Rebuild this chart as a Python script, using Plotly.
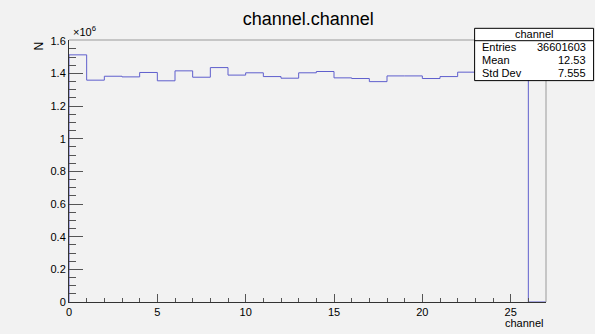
import plotly.graph_objects as go

# Channel occupancy histogram: one bin per channel, 27 bins over [0, 27)
channels = list(range(27))
counts = [
    1.514e6, 1.359e6, 1.383e6, 1.379e6, 1.406e6, 1.355e6, 1.416e6, 1.377e6,
    1.436e6, 1.390e6, 1.404e6, 1.381e6, 1.371e6, 1.404e6, 1.412e6, 1.373e6,
    1.369e6, 1.350e6, 1.385e6, 1.385e6, 1.369e6, 1.381e6, 1.408e6, 1.420e6,
    1.440e6, 1.460e6, 0.0,
]
y_tick_vals = [0, 0.2e6, 0.4e6, 0.6e6, 0.8e6, 1.0e6, 1.2e6, 1.4e6, 1.6e6]
y_tick_text = ["0", "0.2", "0.4", "0.6", "0.8", "1", "1.2", "1.4", "1.6"]
x_tick_vals = [0, 5, 10, 15, 20, 25]
stats_rows = [("Entries", "36601603"), ("Mean", "12.53"), ("Std Dev", "7.555")]

FONT = "Liberation Sans, Arial, sans-serif"
BG = "#f2f2f2"

# step outline: rise at the low edge of bin 0, then one flat segment per bin
edges = [channels[0]] + channels + [channels[-1] + 1]
levels = [0.0] + counts + [counts[-1]]

fig = go.Figure()
fig.add_trace(go.Scatter(
    x=edges, y=levels, mode="lines", line_shape="hv",
    line=dict(color="rgb(95,95,205)", width=1), hoverinfo="skip",
    showlegend=False,
))

fig.update_layout(
    width=595, height=334,
    margin=dict(l=69, r=49, t=40, b=32),
    paper_bgcolor=BG, plot_bgcolor=BG,
    font=dict(family=FONT, size=11, color="black"),
    showlegend=False,
    title=dict(text="channel.channel", x=0.518, xanchor="center",
               y=1 - 19 / 334, yanchor="middle",
               font=dict(family=FONT, size=18, color="black")),
)

fig.update_xaxes(
    range=[0, 27], showgrid=False, zeroline=False,
    showline=True, linecolor="#333333", linewidth=1,
    ticks="inside", ticklen=8, tickcolor="#555555",
    tickvals=x_tick_vals,
    minor=dict(ticks="inside", ticklen=4, dtick=1, tickcolor="#555555"),
    tickfont=dict(family=FONT, size=11),
)
fig.update_yaxes(
    range=[0, 1.605e6], showgrid=False, zeroline=False,
    showline=True, linecolor="#333333", linewidth=1,
    ticks="inside", ticklen=14, tickcolor="#555555",
    tickvals=y_tick_vals, ticktext=y_tick_text,
    minor=dict(ticks="inside", ticklen=7, dtick=0.05e6, tickcolor="#555555"),
    tickfont=dict(family=FONT, size=11),
)

# top and right edges of the frame
fig.add_shape(type="line", xref="paper", yref="paper", x0=0, x1=1, y0=1, y1=1,
              line=dict(color="#9a9a9a", width=1))
fig.add_shape(type="line", xref="paper", yref="paper", x0=1, x1=1, y0=0, y1=1,
              line=dict(color="#9a9a9a", width=1))

# axis titles and exponent
fig.add_annotation(text="N", xref="paper", yref="paper", x=-31 / 477, y=1,
                   xanchor="center", yanchor="top", textangle=-90,
                   showarrow=False, font=dict(family=FONT, size=12))
fig.add_annotation(text="×10<sup>6</sup>", xref="paper", yref="paper",
                   x=0.005, y=1 + 9 / 262, xanchor="left", yanchor="middle",
                   showarrow=False, font=dict(family=FONT, size=11))
fig.add_annotation(text="channel", xref="paper", yref="paper", x=1,
                   y=-13 / 262, xanchor="right", yanchor="top",
                   showarrow=False, font=dict(family=FONT, size=11))

# statistics box (pixel coordinates converted to paper fractions)
px0, px1 = 69.3, 546.4
py0, py1 = 302.5, 40.0


def fx(px):
    return (px - px0) / (px1 - px0)


def fy(py):
    return (py0 - py) / (py0 - py1)


bx0, bx1, by0, by1 = 475.0, 594.0, 28.3, 80.7
fig.add_shape(type="rect", xref="paper", yref="paper",
              x0=fx(bx0), x1=fx(bx1), y0=fy(by1), y1=fy(by0),
              fillcolor="white", line=dict(color="black", width=1),
              layer="above")
fig.add_shape(type="line", xref="paper", yref="paper",
              x0=fx(bx0), x1=fx(bx1), y0=fy(40.7), y1=fy(40.7),
              line=dict(color="black", width=1), layer="above")
fig.add_annotation(text="channel", xref="paper", yref="paper",
                   x=fx((bx0 + bx1) / 2), y=fy(34.3), xanchor="center",
                   yanchor="middle", showarrow=False,
                   font=dict(family=FONT, size=11))
row_y = [46.7, 60.0, 72.7]
for (name, val), ry in zip(stats_rows, row_y):
    fig.add_annotation(text=name, xref="paper", yref="paper", x=fx(480.5),
                       y=fy(ry), xanchor="left", yanchor="middle",
                       showarrow=False, font=dict(family=FONT, size=11))
    fig.add_annotation(text=val, xref="paper", yref="paper", x=fx(588.5),
                       y=fy(ry), xanchor="right", yanchor="middle",
                       showarrow=False, font=dict(family=FONT, size=11))

fig.write_html("out.html")
